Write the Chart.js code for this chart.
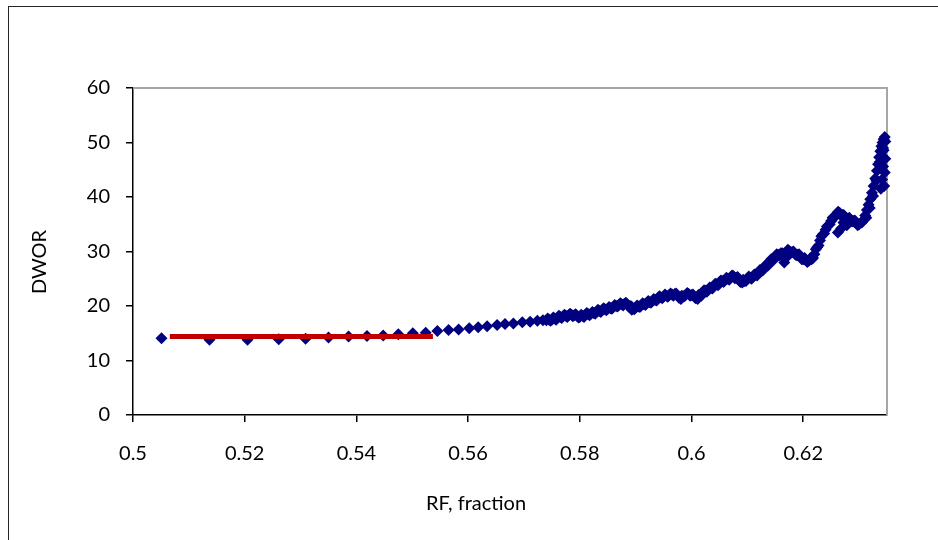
<!DOCTYPE html>
<html>
<head>
<meta charset="utf-8">
<title>DWOR vs RF</title>
<script src="https://cdn.jsdelivr.net/npm/chart.js@4.4.0/dist/chart.umd.min.js"></script>
<style>
    html, body { margin: 0; padding: 0; background: #fff; overflow: hidden; }
    #wrap { position: relative; width: 938px; height: 540px; }
    #frame { position: absolute; left: 8px; top: 6px; width: 1000px; height: 1000px; border: 1px solid #262626; }
    #dworChart { position: absolute; left: 0; top: 0; }
</style>
</head>
<body>
<div id="wrap">
    <div id="frame"></div>
    <canvas id="dworChart" width="938" height="540"></canvas>
</div>
<script>
// Recovery factor (fraction) and DWOR readings
const rf = [
    0.5051, 0.5137, 0.5205, 0.5261, 0.5309, 0.5350, 0.5386, 0.5419, 0.5448, 0.5475,
    0.5501, 0.5524, 0.5545, 0.5565, 0.5583, 0.5602, 0.5618, 0.5634, 0.5652, 0.5666,
    0.5681, 0.5697, 0.5711, 0.5724, 0.5734, 0.5740, 0.5745, 0.5750, 0.5755, 0.5760,
    0.5765, 0.5770, 0.5775, 0.5780, 0.5785, 0.5790, 0.5795, 0.5800, 0.5805, 0.5810,
    0.5815, 0.5820, 0.5825, 0.5830, 0.5835, 0.5840, 0.5845, 0.5850, 0.5855, 0.5860,
    0.5865, 0.5870, 0.5875, 0.5880, 0.5885, 0.5890, 0.5895, 0.5900, 0.5905, 0.5910,
    0.5915, 0.5920, 0.5925, 0.5930, 0.5935, 0.5940, 0.5945, 0.5950, 0.5955, 0.5960,
    0.5965, 0.5970, 0.5975, 0.5980, 0.5985, 0.5990, 0.5995, 0.6000, 0.6005, 0.6010,
    0.6015, 0.6020, 0.6025, 0.6030, 0.6035, 0.6040, 0.6045, 0.6050, 0.6055, 0.6060,
    0.6065, 0.6070, 0.6075, 0.6080, 0.6085, 0.6090, 0.6095, 0.6100, 0.6105, 0.6110,
    0.6115, 0.6120, 0.6125, 0.6130, 0.6135, 0.6140, 0.6145, 0.6150, 0.6155, 0.6160,
    0.6165, 0.6170, 0.6175, 0.6180, 0.6185, 0.6190, 0.6195, 0.6200, 0.6205, 0.6210,
    0.6215, 0.6220, 0.6225, 0.6230, 0.6235, 0.6240, 0.6245, 0.6250, 0.6255, 0.6260,
    0.6265, 0.6270, 0.6275, 0.6280, 0.6285, 0.6290, 0.6295, 0.6300, 0.6305, 0.6308,
    0.6311, 0.6314, 0.6317, 0.6320, 0.6323, 0.6326, 0.6329, 0.6332, 0.6334, 0.6336,
    0.6338, 0.6340, 0.6342, 0.6344, 0.6346,
    0.5893, 0.5981, 0.6011, 0.6091, 0.6166, 0.6168, 0.6207, 0.6262, 0.6268, 0.6272,
    0.6278, 0.6345, 0.6346, 0.6347, 0.6341, 0.6343, 0.6344, 0.6339,
    0.6313, 0.6319, 0.6325, 0.6331, 0.6337, 0.6343, 0.6347
];
const dwor = [
    14.1, 13.8, 13.8, 13.9, 14.0, 14.2, 14.4, 14.5, 14.6, 14.8,
    15.0, 15.1, 15.4, 15.6, 15.7, 15.9, 16.1, 16.3, 16.5, 16.7,
    16.8, 17.0, 17.1, 17.3, 17.4, 17.4, 17.5, 17.5, 17.7, 17.8,
    18.0, 18.1, 18.2, 18.3, 18.4, 18.3, 18.2, 18.0, 18.2, 18.4,
    18.5, 18.6, 18.7, 18.9, 19.1, 19.2, 19.4, 19.5, 19.6, 19.8,
    20.0, 20.2, 20.3, 20.4, 20.3, 20.0, 19.5, 19.7, 19.9, 20.1,
    20.3, 20.6, 20.7, 20.9, 21.1, 21.4, 21.6, 21.7, 21.9, 22.0,
    22.1, 22.2, 21.9, 21.5, 21.8, 22.1, 22.2, 22.0, 21.7, 21.5,
    22.0, 22.4, 22.8, 23.0, 23.3, 23.7, 24.0, 24.2, 24.6, 24.8,
    25.0, 25.2, 25.5, 25.2, 24.8, 24.5, 24.6, 25.0, 25.2, 25.4,
    25.7, 26.1, 26.6, 27.0, 27.4, 28.1, 28.6, 29.0, 29.4, 29.7,
    29.2, 29.9, 30.1, 29.9, 29.6, 29.4, 29.0, 28.6, 28.4, 28.3,
    28.6, 29.5, 30.8, 32.0, 33.1, 34.0, 34.8, 35.6, 36.3, 36.9,
    37.1, 36.7, 36.1, 36.0, 35.8, 35.6, 35.2, 35.0, 35.3, 35.8,
    36.6, 37.6, 38.6, 39.6, 40.8, 42.0, 43.4, 44.8, 46.0, 47.3,
    48.4, 49.3, 50.0, 50.6, 51.0,
    19.3, 21.3, 21.3, 24.3, 28.0, 28.7, 28.1, 33.5, 34.2, 35.3,
    34.8, 42.0, 44.5, 47.0, 43.2, 45.6, 48.6, 41.5,
    36.2, 38.0, 40.2, 43.0, 46.4, 49.0, 50.2
];

// Second pass of readings in the dense part, between the ones above
const rfMid = [
    0.57425, 0.57475, 0.57525, 0.57575, 0.57625, 0.57675, 0.57725, 0.57775, 0.57825, 0.57875,
    0.57925, 0.57975, 0.58025, 0.58075, 0.58125, 0.58175, 0.58225, 0.58275, 0.58325, 0.58375,
    0.58425, 0.58475, 0.58525, 0.58575, 0.58625, 0.58675, 0.58725, 0.58775, 0.58825, 0.58875,
    0.58925, 0.58975, 0.59025, 0.59075, 0.59125, 0.59175, 0.59225, 0.59275, 0.59325, 0.59375,
    0.59425, 0.59475, 0.59525, 0.59575, 0.59625, 0.59675, 0.59725, 0.59775, 0.59825, 0.59875,
    0.59925, 0.59975, 0.60025, 0.60075, 0.60125, 0.60175, 0.60225, 0.60275, 0.60325, 0.60375,
    0.60425, 0.60475, 0.60525, 0.60575, 0.60625, 0.60675, 0.60725, 0.60775, 0.60825, 0.60875,
    0.60925, 0.60975, 0.61025, 0.61075, 0.61125, 0.61175, 0.61225, 0.61275, 0.61325, 0.61375,
    0.61425, 0.61475, 0.61525, 0.61575, 0.61625, 0.61675, 0.61725, 0.61775, 0.61825, 0.61875,
    0.61925, 0.61975, 0.62025, 0.62075, 0.62125, 0.62175, 0.62225, 0.62275, 0.62325, 0.62375,
    0.62425, 0.62475, 0.62525, 0.62575, 0.62625, 0.62675, 0.62725, 0.62775, 0.62825, 0.62875,
    0.62925, 0.62975
];
const dworMid = [
    17.7, 17.3, 17.9, 17.5, 18.2, 17.8, 18.4, 18.0, 18.6, 18.1,
    18.5, 17.9, 18.4, 18.0, 18.7, 18.3, 18.9, 18.6, 19.3, 18.9,
    19.6, 19.2, 19.8, 19.5, 20.2, 19.9, 20.5, 20.1, 20.6, 19.9,
    19.9, 19.4, 20.1, 19.8, 20.5, 20.2, 20.9, 20.6, 21.3, 21.0,
    21.8, 21.4, 22.1, 21.7, 22.3, 21.9, 22.3, 21.5, 21.9, 21.8,
    22.4, 21.9, 22.1, 21.4, 22.0, 21.9, 22.9, 22.6, 23.4, 23.2,
    24.1, 23.8, 24.7, 24.4, 25.2, 24.8, 25.6, 25.1, 25.3, 24.4,
    24.8, 24.6, 25.4, 25.0, 25.8, 25.6, 26.6, 26.5, 27.5, 27.5,
    28.6, 28.5, 29.5, 29.3, 29.7, 29.3, 30.3, 29.7, 30.0, 29.3,
    29.5, 28.6, 28.8, 28.1, 28.7, 28.8, 30.4, 31.1, 32.8, 33.3,
    34.6, 35.0, 36.2, 36.4, 37.3, 36.6, 36.7, 35.8, 36.2, 35.5,
    35.7, 34.8
];

// Horizontal reference line
const refLineRf = [0.5066, 0.5537];
const refLineDwor = [14.4, 14.4];

// Axis ticks
const xTicks = [0.5, 0.52, 0.54, 0.56, 0.58, 0.6, 0.62];
const xTickLabels = ['0.5', '0.52', '0.54', '0.56', '0.58', '0.6', '0.62'];
const yTicks = [0, 10, 20, 30, 40, 50, 60];
const yTickLabels = ['0', '10', '20', '30', '40', '50', '60'];

const xTitle = 'RF, fraction';
const yTitle = 'DWOR';

const FONT = 'Lato, "Open Sans", sans-serif';

// gray top/right frame of the plot area plus the two axis titles
const plotFrame = {
    id: 'plotFrame',
    beforeDatasetsDraw(chart) {
        const { ctx, chartArea: a } = chart;
        ctx.save();
        ctx.strokeStyle = '#a6a6a6';
        ctx.lineWidth = 2;
        ctx.beginPath();
        ctx.moveTo(a.left, a.top);
        ctx.lineTo(a.right, a.top);
        ctx.lineTo(a.right, a.bottom);
        ctx.stroke();
        ctx.restore();
    },
    afterDraw(chart) {
        const { ctx } = chart;
        ctx.save();
        ctx.fillStyle = '#000';
        ctx.font = '20px ' + FONT;
        ctx.textAlign = 'center';
        ctx.textBaseline = 'middle';
        ctx.fillText(xTitle, 476, 504);
        ctx.translate(40, 262);
        ctx.rotate(-Math.PI / 2);
        ctx.fillText(yTitle, 0, 0);
        ctx.restore();
    }
};

const axisStyle = {
    grid: { display: true, drawOnChartArea: false, drawTicks: true, tickLength: 7, color: '#000', lineWidth: 1.5 },
    border: { display: true, color: '#000', width: 1.5 }
};

const points = rf.map((x, i) => ({ x: x, y: dwor[i] }))
    .concat(rfMid.map((x, i) => ({ x: x, y: dworMid[i] })));

new Chart(document.getElementById('dworChart'), {
    type: 'scatter',
    data: {
        datasets: [
            {
                label: 'ref',
                data: refLineRf.map((x, i) => ({ x: x, y: refLineDwor[i] })),
                showLine: true,
                borderColor: '#c00000',
                borderWidth: 5,
                pointRadius: 0,
                clip: false
            },
            {
                label: 'DWOR',
                data: points,
                pointStyle: 'rectRot',
                pointRadius: 6,
                borderWidth: 0,
                backgroundColor: '#000080',
                borderColor: '#000080',
                clip: false
            }
        ]
    },
    options: {
        responsive: false,
        animation: false,
        layout: { padding: { top: 88, right: 51, left: 0, bottom: 0 } },
        plugins: {
            legend: { display: false },
            tooltip: { enabled: false }
        },
        scales: {
            x: {
                type: 'linear',
                min: 0.5,
                max: 0.635,
                ...axisStyle,
                afterBuildTicks: scale => { scale.ticks = xTicks.map(v => ({ value: v })); },
                afterFit: scale => { scale.height = 125; },
                ticks: {
                    autoSkip: false,
                    maxRotation: 0,
                    padding: 20,
                    color: '#000',
                    font: { family: FONT, size: 20 },
                    callback: (v, i) => xTickLabels[i]
                }
            },
            y: {
                type: 'linear',
                min: 0,
                max: 60,
                ...axisStyle,
                afterBuildTicks: scale => { scale.ticks = yTicks.map(v => ({ value: v })); },
                afterFit: scale => { scale.width = 133; },
                ticks: {
                    autoSkip: false,
                    padding: 16,
                    color: '#000',
                    font: { family: FONT, size: 20 },
                    callback: (v, i) => yTickLabels[i]
                }
            }
        }
    },
    plugins: [plotFrame]
});
</script>
</body>
</html>
